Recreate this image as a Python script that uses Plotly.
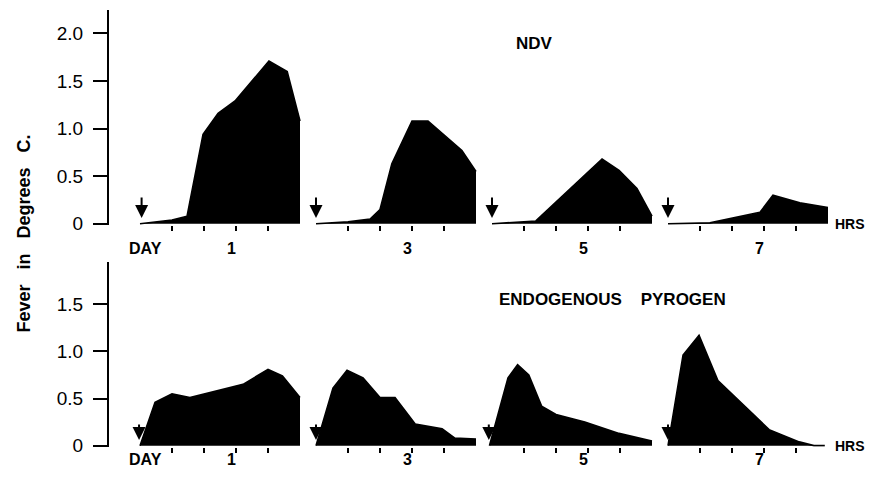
import plotly.graph_objects as go

# Fever response (degrees C) vs hours after injection, days 1, 3, 5 and 7.
days = ["1", "3", "5", "7"]
day_offsets = [0.0, 5.5, 11.0, 16.5]          # hour position of each day's panel start
hour_ticks = [1, 2, 3, 4]

# NDV
ndv_d1_hr = [0, 1.0, 1.47, 1.97, 2.44, 2.97, 4.03, 4.6, 5.0]
ndv_d1_t = [0, 0.04, 0.08, 0.94, 1.16, 1.29, 1.71, 1.60, 1.08]
ndv_d3_hr = [0, 1.0, 1.69, 2.0, 2.37, 3.0, 3.5, 4.56, 5.0]
ndv_d3_t = [0, 0.02, 0.05, 0.15, 0.63, 1.08, 1.08, 0.77, 0.55]
ndv_d5_hr = [0, 1.37, 3.44, 3.97, 4.53, 5.0]
ndv_d5_t = [0, 0.03, 0.68, 0.56, 0.37, 0.08]
ndv_d7_hr = [0, 1.31, 2.87, 3.28, 4.12, 4.75, 5.0]
ndv_d7_t = [0, 0.01, 0.12, 0.30, 0.22, 0.18, 0.17]

# Endogenous pyrogen
ep_d1_hr = [0, 0.47, 1.0, 1.56, 3.22, 4.0, 4.45, 5.0]
ep_d1_t = [0, 0.46, 0.55, 0.51, 0.65, 0.81, 0.74, 0.51]
ep_d3_hr = [0, 0.53, 0.97, 1.47, 2.0, 2.47, 3.1, 3.94, 4.34, 5.0]
ep_d3_t = [0, 0.61, 0.80, 0.72, 0.51, 0.51, 0.23, 0.18, 0.08, 0.07]
ep_d5_hr = [-0.08, 0.5, 0.8, 1.15, 1.55, 2.0, 2.9, 3.97, 5.0]
ep_d5_t = [0, 0.72, 0.86, 0.75, 0.42, 0.33, 0.25, 0.13, 0.05]
ep_d7_hr = [0, 0.47, 0.97, 1.56, 3.16, 4.1, 4.56, 4.9]
ep_d7_t = [0, 0.96, 1.17, 0.69, 0.17, 0.04, 0.0, 0.0]

ndv_series = [(ndv_d1_hr, ndv_d1_t), (ndv_d3_hr, ndv_d3_t),
              (ndv_d5_hr, ndv_d5_t), (ndv_d7_hr, ndv_d7_t)]
ep_series = [(ep_d1_hr, ep_d1_t), (ep_d3_hr, ep_d3_t),
             (ep_d5_hr, ep_d5_t), (ep_d7_hr, ep_d7_t)]

# injection times (arrows), hours within each day
ndv_inject_hr = [0.05, 0.0, 0.0, 0.0]
ep_inject_hr = [-0.03, 0.0, -0.1, 0.0]

top_ticks = [0, 0.5, 1.0, 1.5, 2.0]
top_ticktext = ["0", "0.5", "1.0", "1.5", "2.0"]
bot_ticks = [0, 0.5, 1.0, 1.5]
bot_ticktext = ["0", "0.5", "1.0", "1.5"]

W, H = 869, 489
FONT = "Liberation Sans"

fig = go.Figure()

for (series, xa, ya) in [(ndv_series, "x", "y"), (ep_series, "x2", "y2")]:
    for off, (hr, t) in zip(day_offsets, series):
        fig.add_trace(go.Scatter(
            x=[off + h for h in hr], y=t, xaxis=xa, yaxis=ya,
            mode="lines", line=dict(color="black", width=1.6),
            fill="tozeroy", fillcolor="black", hoverinfo="skip",
            showlegend=False))

# layout geometry (pixels)
axis_x_px = 109
hr0_px = 140
px_per_hr = 32
x_range = [(axis_x_px - hr0_px) / px_per_hr, (W - hr0_px) / px_per_hr]
x_domain = [axis_x_px / W, 1.0]

top_zero_px, top_ppu = 228, 97
bot_zero_px, bot_ppu = 454, 96
top_range = [-0.012, 2.25]
bot_range = [-0.012, 1.95]


def ydomain(zero_px, ppu, rng):
    lo_px = zero_px - ppu * rng[0]
    hi_px = zero_px - ppu * rng[1]
    return [1 - lo_px / H, 1 - hi_px / H]


tickvals_x = [off + h for off in day_offsets for h in hour_ticks]
xcommon = dict(range=x_range, domain=x_domain, showline=False, showgrid=False,
               zeroline=False, showticklabels=False, ticks="outside",
               tickvals=tickvals_x, ticklen=5, tickwidth=2, tickcolor="black",
               fixedrange=True)
ycommon = dict(showline=True, linewidth=2, linecolor="black", showgrid=False,
               zeroline=False, ticks="outside", ticklen=14, tickwidth=2,
               tickcolor="black", ticklabelstandoff=6,
               tickfont=dict(family=FONT, size=19, color="black"))

fig.update_layout(
    width=W, height=H, margin=dict(l=0, r=0, t=0, b=0),
    paper_bgcolor="white", plot_bgcolor="white", showlegend=False,
    xaxis=dict(**xcommon, anchor="y"),
    xaxis2=dict(**xcommon, anchor="y2"),
    yaxis=dict(**ycommon, range=top_range, anchor="x",
               domain=ydomain(top_zero_px, top_ppu, top_range),
               tickvals=top_ticks, ticktext=top_ticktext),
    yaxis2=dict(**ycommon, range=bot_range, anchor="x2",
                domain=ydomain(bot_zero_px, bot_ppu, bot_range),
                tickvals=bot_ticks, ticktext=bot_ticktext),
)

ann = []
lab_font = dict(family=FONT, size=16, color="black", weight="bold")

# injection arrows
for xa, ya, inj, length in [("x", "y", ndv_inject_hr, 22), ("x2", "y2", ep_inject_hr, 17)]:
    for off, h in zip(day_offsets, inj):
        ann.append(dict(x=off + h, y=0.06, xref=xa, yref=ya, ax=0, ay=-length,
                        showarrow=True, arrowhead=2, arrowsize=1.3, arrowwidth=2,
                        arrowcolor="black", text=""))

# day labels under each panel
for y_px in [253, 479]:
    yp = 1 - y_px / H
    ann.append(dict(x=0.16, y=yp, xref="x", yref="paper", text="DAY",
                    showarrow=False, font=lab_font))
    for off, d in zip(day_offsets, days):
        ann.append(dict(x=off + 2.85, y=yp, xref="x", yref="paper", text=d,
                        showarrow=False, font=lab_font))

# HRS labels
for xa, ya in [("x", "y"), ("x2", "y2")]:
    ann.append(dict(x=22.2, y=0, xref=xa, yref=ya, text="HRS", showarrow=False,
                    font=dict(family=FONT, size=14, color="black", weight="bold")))

# panel titles
title_font = dict(family=FONT, size=17, color="black", weight="bold")
ann.append(dict(x=12.34, y=1.89, xref="x", yref="y", text="NDV",
                showarrow=False, font=title_font))
ann.append(dict(x=14.78, y=1.55, xref="x2", yref="y2",
                text="ENDOGENOUS&nbsp;&nbsp;&nbsp;&nbsp;PYROGEN",
                showarrow=False, font=title_font))

# y-axis title
ann.append(dict(x=12 / W, y=1 - 238 / H, xref="paper", yref="paper",
                text="Fever&nbsp;&nbsp;&nbsp;in&nbsp;&nbsp;&nbsp;Degrees&nbsp;&nbsp;&nbsp;C.",
                textangle=-90, showarrow=False,
                font=dict(family=FONT, size=18, color="black", weight="bold")))

fig.update_layout(annotations=ann)
fig.write_html("out.html")
